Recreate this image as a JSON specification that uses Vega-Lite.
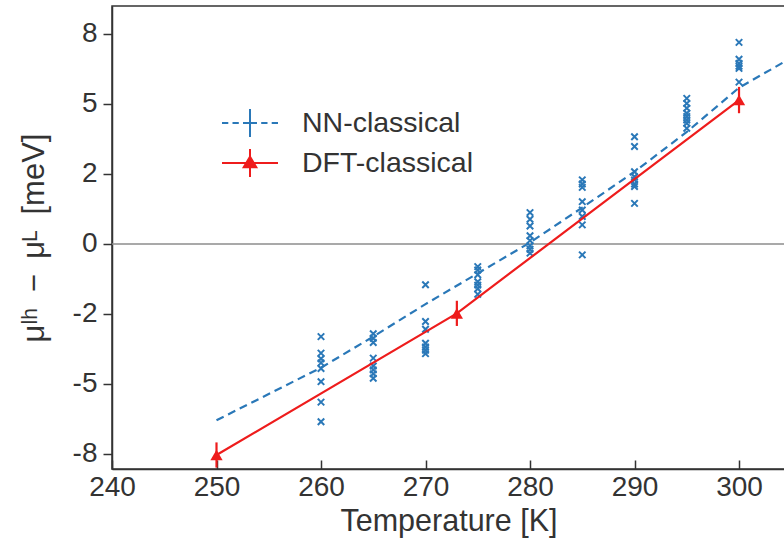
{
  "$schema": "https://vega.github.io/schema/vega-lite/v6.json",
  "width": 673,
  "height": 463,
  "autosize": "none",
  "padding": {"left": 112, "top": 6, "right": 0, "bottom": 70},
  "background": "white",
  "config": {
    "font": "Liberation Sans",
    "view": {"stroke": "#333333", "strokeWidth": 1.5},
    "axis": {"grid": false, "domainColor": "#333333", "domainWidth": 1.5, "tickColor": "#333333", "tickWidth": 1.5, "labelColor": "#333333", "titleColor": "#333333", "labelFont": "Liberation Sans", "titleFont": "Liberation Sans", "titleFontWeight": "normal"}
  },
  "datasets": {
    "samples": [
      {"T": 260, "mu": -3.31}, {"T": 260, "mu": -3.90}, {"T": 260, "mu": -4.10}, {"T": 260, "mu": -4.25}, {"T": 260, "mu": -4.45}, {"T": 260, "mu": -4.92}, {"T": 260, "mu": -5.65}, {"T": 260, "mu": -6.35},
      {"T": 265, "mu": -3.21}, {"T": 265, "mu": -3.37}, {"T": 265, "mu": -3.52}, {"T": 265, "mu": -4.08}, {"T": 265, "mu": -4.36}, {"T": 265, "mu": -4.50}, {"T": 265, "mu": -4.64}, {"T": 265, "mu": -4.80},
      {"T": 270, "mu": -1.46}, {"T": 270, "mu": -2.77}, {"T": 270, "mu": -3.05}, {"T": 270, "mu": -3.55}, {"T": 270, "mu": -3.68}, {"T": 270, "mu": -3.80}, {"T": 270, "mu": -3.92},
      {"T": 275, "mu": -0.81}, {"T": 275, "mu": -0.93}, {"T": 275, "mu": -1.10}, {"T": 275, "mu": -1.35}, {"T": 275, "mu": -1.47}, {"T": 275, "mu": -1.60}, {"T": 275, "mu": -1.80},
      {"T": 280, "mu": 1.12}, {"T": 280, "mu": 0.88}, {"T": 280, "mu": 0.64}, {"T": 280, "mu": 0.29}, {"T": 280, "mu": 0.12}, {"T": 280, "mu": -0.07}, {"T": 280, "mu": -0.19}, {"T": 280, "mu": -0.33},
      {"T": 285, "mu": 2.29}, {"T": 285, "mu": 2.14}, {"T": 285, "mu": 2.02}, {"T": 285, "mu": 1.51}, {"T": 285, "mu": 1.21}, {"T": 285, "mu": 0.98}, {"T": 285, "mu": 0.68}, {"T": 285, "mu": -0.39},
      {"T": 290, "mu": 3.83}, {"T": 290, "mu": 3.48}, {"T": 290, "mu": 2.58}, {"T": 290, "mu": 2.40}, {"T": 290, "mu": 2.29}, {"T": 290, "mu": 2.14}, {"T": 290, "mu": 2.05}, {"T": 290, "mu": 1.45},
      {"T": 295, "mu": 5.20}, {"T": 295, "mu": 5.02}, {"T": 295, "mu": 4.85}, {"T": 295, "mu": 4.67}, {"T": 295, "mu": 4.55}, {"T": 295, "mu": 4.43}, {"T": 295, "mu": 4.31}, {"T": 295, "mu": 4.13},
      {"T": 300, "mu": 7.20}, {"T": 300, "mu": 6.60}, {"T": 300, "mu": 6.45}, {"T": 300, "mu": 6.35}, {"T": 300, "mu": 6.27}, {"T": 300, "mu": 5.78}
    ],
    "nn": [
      {"T": 250, "mu": -6.30, "series": "NN-classical"},
      {"T": 260, "mu": -4.42, "series": "NN-classical"},
      {"T": 265, "mu": -3.31, "series": "NN-classical"},
      {"T": 270, "mu": -2.15, "series": "NN-classical"},
      {"T": 275, "mu": -1.05, "series": "NN-classical"},
      {"T": 280, "mu": 0.05, "series": "NN-classical"},
      {"T": 285, "mu": 1.30, "series": "NN-classical"},
      {"T": 290, "mu": 2.58, "series": "NN-classical"},
      {"T": 295, "mu": 4.00, "series": "NN-classical"},
      {"T": 300, "mu": 5.58, "series": "NN-classical"},
      {"T": 304.4, "mu": 6.52, "series": "NN-classical"}
    ],
    "dft": [
      {"T": 250, "mu": -7.54, "lo": -7.99, "hi": -7.09, "series": "DFT-classical"},
      {"T": 273, "mu": -2.48, "lo": -2.93, "hi": -2.03, "series": "DFT-classical"},
      {"T": 300, "mu": 5.14, "lo": 4.67, "hi": 5.61, "series": "DFT-classical"}
    ],
    "zero": [{"mu": 0}]
  },
  "encoding": {
    "x": {"field": "T", "type": "quantitative", "scale": {"domain": [240, 304.4], "nice": false, "zero": false},
      "axis": {"title": "Temperature [K]", "values": [240, 250, 260, 270, 280, 290, 300], "format": "d", "tickSize": -9, "labelPadding": 13, "labelFlush": false, "labelFontSize": 28, "titleFontSize": 30.5, "titlePadding": 5}},
    "y": {"field": "mu", "type": "quantitative", "scale": {"domain": [-8.04, 8.5], "nice": false, "zero": false},
      "axis": {"title": "μˡʰ\u2002−\u2002μᴸ\u2002[meV]", "values": [-7.5, -5, -2.5, 0, 2.5, 5, 7.5], "tickSize": 9, "labelPadding": 6, "labelFlush": false, "labelFontSize": 28, "titleFontSize": 31, "titlePadding": 22,
        "labelExpr": "datum.value == 7.5 ? '8' : datum.value == 5 ? '5' : datum.value == 2.5 ? '2' : datum.value == 0 ? '0' : datum.value == -2.5 ? '-2' : datum.value == -5 ? '-5' : '-8'"}}
  },
  "layer": [
    {
      "data": {"name": "zero"},
      "mark": {"type": "rule", "color": "#8c8c8c", "strokeWidth": 1.5},
      "encoding": {"x": null, "y": {"field": "mu", "type": "quantitative"}}
    },
    {
      "data": {"name": "samples"},
      "mark": {"type": "point", "shape": "M-1,-1L1,1M-1,1L1,-1", "filled": false, "size": 42, "strokeWidth": 2, "color": "#2a78b8", "opacity": 1}
    },
    {
      "data": {"name": "nn"},
      "mark": {"type": "line", "strokeWidth": 2.2, "strokeDash": [8, 5], "clip": true},
      "encoding": {"color": {"field": "series", "type": "nominal",
        "scale": {"domain": ["NN-classical", "DFT-classical"], "range": ["#2a78b8", "#ee1c1c"]},
        "legend": {"title": null, "orient": "none", "legendX": 123, "legendY": 102, "padding": 0,
          "symbolSize": 784, "symbolStrokeWidth": 2, "labelFontSize": 28.5, "labelColor": "#333333", "labelOffset": 37, "rowPadding": 4, "labelLimit": 400,
          "labelFont": "Liberation Sans",
          "encode": {"symbols": {"update": {
            "shape": {"signal": "datum.value == 'NN-classical' ? 'M-2,0H-1.55M-1.25,0H-0.8M-0.5,0H0.5M0.8,0H1.25M1.55,0H2M0,-1V1' : 'M-2,0H2M0,-1V1M-0.45,0.3L0,-0.45L0.45,0.3Z'"},
            "fill": {"signal": "datum.value == 'DFT-classical' ? '#ee1c1c' : 'transparent'"},
            "fillOpacity": {"value": 1}
          }}}}}}
    },
    {
      "data": {"name": "dft"},
      "mark": {"type": "line", "strokeWidth": 2.2},
      "encoding": {"color": {"field": "series", "type": "nominal"}}
    },
    {
      "data": {"name": "dft"},
      "mark": {"type": "rule", "color": "#ee1c1c", "strokeWidth": 2.2},
      "encoding": {"y": {"field": "lo", "type": "quantitative"}, "y2": {"field": "hi"}}
    },
    {
      "data": {"name": "dft"},
      "mark": {"type": "point", "shape": "triangle-up", "filled": true, "size": 150, "color": "#ee1c1c", "opacity": 1}
    }
  ]
}
